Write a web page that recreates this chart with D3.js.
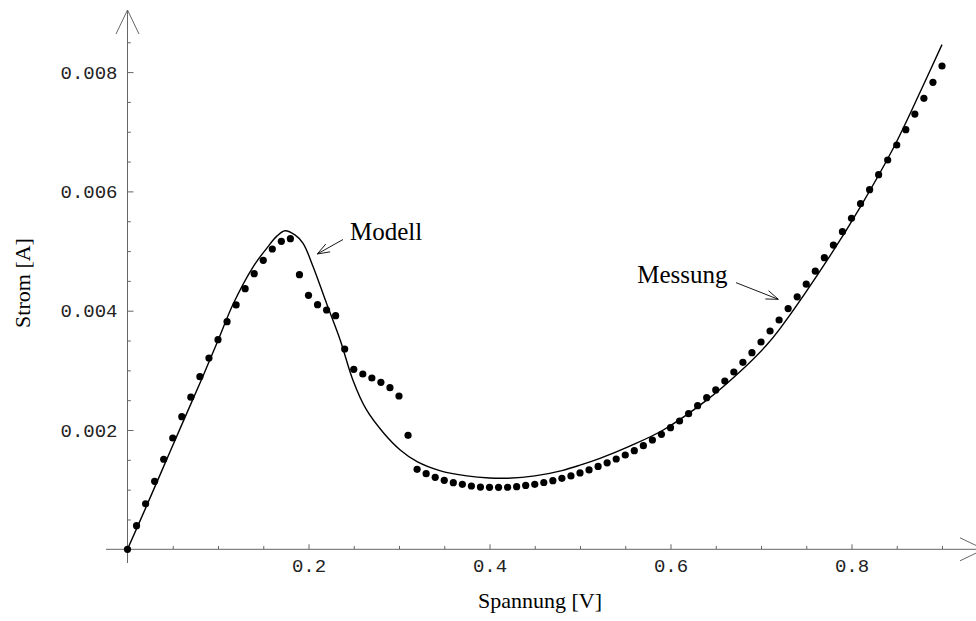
<!DOCTYPE html>
<html>
<head>
<meta charset="utf-8">
<script src="https://cdn.jsdelivr.net/npm/d3@7"></script>
<style>
  body { margin: 0; background: #fff; }
  svg { display: block; }
  .tick text { font-family: "Liberation Mono", "Courier New", monospace; font-size: 19px; fill: #222; }
  .lbl { font-family: "Liberation Serif", "Times New Roman", serif; font-size: 25px; fill: #000; }
  .title { font-family: "Liberation Serif", "Times New Roman", serif; font-size: 22px; fill: #000; }
</style>
</head>
<body>
<div id="chart"></div>
<script>
// measured points (Messung)
var voltage = [0.00,0.01,0.02,0.03,0.04,0.05,0.06,0.07,0.08,0.09,
               0.10,0.11,0.12,0.13,0.14,0.15,0.16,0.17,0.18,0.19,
               0.20,0.21,0.22,0.23,0.24,0.25,0.26,0.27,0.28,0.29,
               0.30,0.31,0.32,0.33,0.34,0.35,0.36,0.37,0.38,0.39,
               0.40,0.41,0.42,0.43,0.44,0.45,0.46,0.47,0.48,0.49,
               0.50,0.51,0.52,0.53,0.54,0.55,0.56,0.57,0.58,0.59,
               0.60,0.61,0.62,0.63,0.64,0.65,0.66,0.67,0.68,0.69,
               0.70,0.71,0.72,0.73,0.74,0.75,0.76,0.77,0.78,0.79,
               0.80,0.81,0.82,0.83,0.84,0.85,0.86,0.87,0.88,0.89,0.90];
var current = [0,0.000396,0.000764,0.00114,0.00151,0.001866,0.002223,0.00255,0.002894,0.003207,
               0.003514,0.003816,0.004096,0.004369,0.00462,0.004845,0.005034,0.005163,0.005207,0.004604,
               0.004258,0.004101,0.004012,0.003916,0.003358,0.003018,0.002939,0.002872,0.0028,0.002709,
               0.00257,0.001911,0.001341,0.001267,0.001207,0.001157,0.001117,0.00109,0.001061,0.001044,
               0.001039,0.001039,0.00104,0.00105,0.00107,0.00109,0.00112,0.00115,0.00119,0.00123,
               0.00128,0.00133,0.00139,0.00145,0.001514,0.001581,0.001653,0.001737,0.001832,0.001928,
               0.002039,0.002151,0.002273,0.002407,0.002542,0.002671,0.002821,0.002972,0.003135,0.003296,
               0.003475,0.00366,0.003844,0.004035,0.004232,0.004444,0.004662,0.004889,0.005101,0.005324,
               0.005549,0.005794,0.006029,0.00628,0.006526,0.006778,0.007034,0.007297,0.007561,0.007829,0.008102];

// model curve (Modell)
var modelV = [0,0.02,0.04,0.06,0.083,0.10,0.117,0.139,0.154,0.165,0.174,0.185,0.194,0.205,0.220,0.235,
              0.249,0.264,0.283,0.301,0.320,0.345,0.375,0.40,0.42,0.45,0.48,0.50,0.522,0.555,0.592,0.640,
              0.677,0.706,0.721,0.778,0.809,0.846,0.876,0.90];
var modelI = [0,0.00069,0.00139,0.00209,0.00289,0.00350,0.00412,0.00474,0.00505,0.00525,0.00534,0.00527,
              0.00513,0.00474,0.00412,0.00351,0.00284,0.00234,0.00195,0.00167,0.00147,0.00132,0.00123,
              0.001195,0.001192,0.00123,0.00132,0.00141,0.001525,0.00173,0.00200,0.00250,0.00298,0.00342,
              0.00370,0.00496,0.00572,0.00672,0.00767,0.00846];

var xMajor = [0.2, 0.4, 0.6, 0.8];
var yMajor = [0.002, 0.004, 0.006, 0.008];
var xMinor = [0.05,0.1,0.15,0.25,0.3,0.35,0.45,0.5,0.55,0.65,0.7,0.75,0.85,0.9];
var yMinor = [0.0005,0.001,0.0015,0.0025,0.003,0.0035,0.0045,0.005,0.0055,0.0065,0.007,0.0075,0.0085];

// annotations: label position, arrow start, arrow tip (data units)
var notes = [
  {text: "Modell",  at: [0.2459, 0.005185], from: [0.2381, 0.005193], to: [0.2097, 0.004951]},
  {text: "Messung", at: [0.5633, 0.004459], from: [0.6724, 0.00447],  to: [0.7191, 0.004191]}
];

var width = 976, height = 621;

var x = d3.scaleLinear().domain([0, 0.9]).range([127.5, 942]);
var y = d3.scaleLinear().domain([0, 0.008]).range([549.3, 72.1]);

var svg = d3.select("#chart").append("svg")
    .attr("width", width)
    .attr("height", height);

var axisColor = "#666";

// x axis
var gx = svg.append("g").attr("transform", `translate(0,${y(0)})`);
gx.call(d3.axisBottom(x).tickValues(xMajor).tickSize(-5).tickPadding(9)
    .tickFormat(d3.format(".1f")));
gx.append("g").call(d3.axisBottom(x).tickValues(xMinor).tickSize(-3.3).tickFormat(""));
gx.selectAll(".domain").remove();
gx.selectAll(".tick line").attr("stroke", axisColor);

// y axis
var gy = svg.append("g").attr("transform", `translate(${x(0)},0)`);
gy.call(d3.axisLeft(y).tickValues(yMajor).tickSize(-6).tickPadding(10)
    .tickFormat(d3.format(".3f")));
gy.append("g").call(d3.axisLeft(y).tickValues(yMinor).tickSize(-3.3).tickFormat(""));
gy.selectAll(".domain").remove();
gy.selectAll(".tick line").attr("stroke", axisColor);

// axis lines with open arrow heads
var x0 = x(0), y0 = y(0);
svg.append("line").attr("x1", 106).attr("x2", 984).attr("y1", y0).attr("y2", y0)
    .attr("stroke", axisColor);
svg.append("path").attr("d", `M960,${y0 - 11.5} L984,${y0} L960,${y0 + 11.5}`)
    .attr("fill", "none").attr("stroke", axisColor);
svg.append("line").attr("x1", x0).attr("x2", x0).attr("y1", 563).attr("y2", 10)
    .attr("stroke", axisColor);
svg.append("path").attr("d", `M${x0 - 11.5},34 L${x0},10 L${x0 + 11.5},34`)
    .attr("fill", "none").attr("stroke", axisColor);

// model curve
var line = d3.line()
    .x(function(d) { return x(d[0]); })
    .y(function(d) { return y(d[1]); })
    .curve(d3.curveCatmullRom.alpha(0.5));

svg.append("path")
    .datum(modelV.map(function(v, i) { return [v, modelI[i]]; }))
    .attr("d", line)
    .attr("fill", "none")
    .attr("stroke", "#000")
    .attr("stroke-width", 1.4);

// measured dots
svg.append("g").selectAll("circle")
    .data(voltage.map(function(v, i) { return [v, current[i]]; }))
    .enter()
    .append("circle")
    .attr("cx", function(d) { return x(d[0]); })
    .attr("cy", function(d) { return y(d[1]); })
    .attr("r", 3.6)
    .attr("fill", "#000");

// annotations
notes.forEach(function(n) {
    svg.append("text").attr("class", "lbl")
        .attr("x", x(n.at[0])).attr("y", y(n.at[1]))
        .text(n.text);
    var x1 = x(n.from[0]), y1 = y(n.from[1]), x2 = x(n.to[0]), y2 = y(n.to[1]);
    var a = Math.atan2(y2 - y1, x2 - x1), len = 13, sp = 0.35;
    svg.append("path")
        .attr("d", `M${x1},${y1} L${x2},${y2}` +
            ` M${x2 - len * Math.cos(a - sp)},${y2 - len * Math.sin(a - sp)} L${x2},${y2}` +
            ` L${x2 - len * Math.cos(a + sp)},${y2 - len * Math.sin(a + sp)}`)
        .attr("fill", "none").attr("stroke", "#000").attr("stroke-width", 0.9);
});

// axis titles
svg.append("text").attr("class", "title")
    .attr("x", 540).attr("y", 608)
    .attr("text-anchor", "middle")
    .text("Spannung [V]");
svg.append("text").attr("class", "title")
    .attr("transform", "translate(30,283) rotate(-90)")
    .attr("text-anchor", "middle")
    .text("Strom [A]");
</script>
</body>
</html>
